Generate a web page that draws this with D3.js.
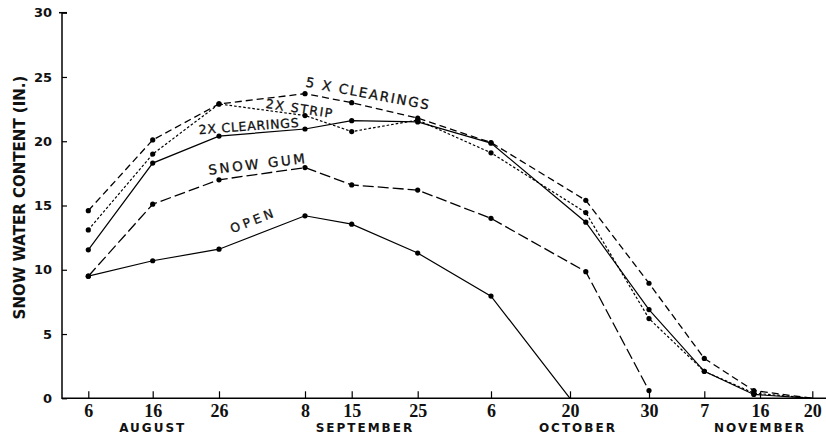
<!DOCTYPE html>
<html><head><meta charset="utf-8">
<script src="https://cdn.jsdelivr.net/npm/d3@7"></script>
<style>html,body{margin:0;padding:0;background:#fff;} svg{display:block;}</style>
</head><body><svg id="chart" width="826" height="439"></svg>
<script>
// ---------- DATA ----------
const YEAR = 1958; // nominal year, only used to build dates
const surveyDates   = ["08-06","08-16","08-26","09-08","09-15","09-25","10-06","10-22","10-30","11-07","11-15","11-20"];
const snowGumDates  = ["08-06","08-16","08-26","09-08","09-15","09-25","10-06","10-22","10-30"];
const openDates     = ["08-06","08-16","08-26","09-08","09-15","09-25","10-06","10-20"];

const fiveXClearings = [14.6, 20.1, 22.9, 23.7, 23.0, 21.8, 19.9, 15.4, 8.95, 3.1, 0.6, 0];
const twoXStrip      = [13.1, 19.0, 22.9, 22.0, 20.75, 21.65, 19.1, 14.45, 6.2, 2.1, 0.4, 0];
const twoXClearings  = [11.55, 18.3, 20.4, 20.95, 21.6, 21.5, 19.85, 13.7, 6.9, 2.1, 0.3, 0];
const snowGum        = [9.5, 15.1, 17.0, 17.95, 16.6, 16.2, 14.0, 9.85, 0.6];
const openSite       = [9.5, 10.7, 11.6, 14.2, 13.55, 11.3, 7.95, 0];

const tickDates  = ["08-06","08-16","08-26","09-08","09-15","09-25","10-06","10-20","10-30","11-07","11-16","11-20"];
const tickLabels = ["6","16","26","8","15","25","6","20","30","7","16","20"];
const monthNames = ["AUGUST","SEPTEMBER","OCTOBER","NOVEMBER"];
const monthLabelDates = ["08-16","09-17","10-21","11-16"];
const yTickValues = [0, 5, 10, 15, 20, 25, 30];
const yTitle = "SNOW WATER CONTENT (IN.)";

const seriesNames  = ["5 X CLEARINGS", "2X STRIP", "2X CLEARINGS", "SNOW GUM", "OPEN"];
// label anchors in data units (date, snow water content)
const labelDates  = ["09-08", "09-02", "08-23", "08-24T12", "08-28"];
const labelValues = [24.25, 22.6, 20.55, 17.4, 12.85];

// ---------- LAYOUT / STYLE ----------
const parse = s => new Date(`${YEAR}-${s}${s.includes("T") ? ":00" : ""}`);
const W = 826, H = 439;
const axisX = 62, axisY = 398.3, topY = 12.7;
// hand-drawn, uneven spacing of the original date axis (pixel positions of the tick dates)
const xTickPx = [88.3, 152.7, 219, 305, 351.7, 417.7, 491, 570, 649, 704.3, 760, 812.3];

const x = d3.scaleTime().domain(tickDates.map(parse)).range(xTickPx);
const y = d3.scaleLinear().domain([0, 30]).range([axisY, topY]);

const svg = d3.select("#chart");

// Y axis
const yAxis = d3.axisLeft(y).tickValues(yTickValues).tickSize(-5).tickPadding(10);
const gy = svg.append("g").attr("transform", `translate(${axisX},0)`).call(yAxis);
gy.select(".domain").remove();
gy.selectAll(".tick line").attr("stroke", "#000").attr("stroke-width", 1.2);
gy.selectAll(".tick text").attr("font-family", "DejaVu Sans").attr("font-weight", "bold")
  .attr("font-size", 13).attr("fill", "#111");
svg.append("line").attr("x1", axisX).attr("x2", axisX).attr("y1", y(30)).attr("y2", axisY + 0.7)
  .attr("stroke", "#000").attr("stroke-width", 1.5);
svg.append("line").attr("x1", axisX - 3).attr("x2", axisX + 5).attr("y1", y(30)).attr("y2", y(30))
  .attr("stroke", "#000").attr("stroke-width", 1.5);

// X axis
const xAxis = d3.axisBottom(x).tickValues(tickDates.map(parse))
  .tickFormat((d, i) => tickLabels[i]).tickSize(-7).tickPadding(6);
const gx = svg.append("g").attr("transform", `translate(0,${axisY})`).call(xAxis);
gx.select(".domain").remove();
gx.selectAll(".tick line").attr("stroke", "#000").attr("stroke-width", 1.2);
gx.selectAll(".tick text").attr("font-family", "Liberation Serif").attr("font-weight", "bold")
  .attr("font-size", 18).attr("fill", "#111");
svg.append("line").attr("x1", axisX).attr("x2", W).attr("y1", axisY).attr("y2", axisY)
  .attr("stroke", "#000").attr("stroke-width", 1.5);

// month labels
svg.append("g").selectAll("text").data(monthNames).join("text")
  .attr("x", (d, i) => x(parse(monthLabelDates[i])))
  .attr("y", axisY + 34)
  .attr("text-anchor", "middle")
  .attr("font-family", "DejaVu Sans").attr("font-weight", "bold").attr("font-size", 12)
  .attr("letter-spacing", 2).attr("fill", "#111")
  .text(d => d);

// y title
svg.append("text")
  .attr("transform", `translate(24.5,197.5) rotate(-90)`)
  .attr("text-anchor", "middle")
  .attr("font-family", "DejaVu Sans").attr("font-weight", "bold").attr("font-size", 15)
  .attr("fill", "#111").text(yTitle);

// series
const seriesValues = [fiveXClearings, twoXStrip, twoXClearings, snowGum, openSite];
const seriesDates  = [surveyDates, surveyDates, surveyDates, snowGumDates, openDates];
const dashes = ["7,4", "2.6,2", null, "11,4", null];
const widths = [1.3, 1.2, 1.2, 1.3, 1.2];

const line = d3.line().x(d => x(d.date)).y(d => y(d.v));
seriesValues.forEach((vals, si) => {
  const pts = vals.map((v, i) => ({ date: parse(seriesDates[si][i]), v }));
  svg.append("path").datum(pts)
    .attr("d", line).attr("fill", "none").attr("stroke", "#000")
    .attr("stroke-width", widths[si])
    .attr("stroke-dasharray", dashes[si]);
  svg.append("g").selectAll("circle").data(pts.filter(p => p.v > 0)).join("circle")
    .attr("cx", d => x(d.date)).attr("cy", d => y(d.v)).attr("r", 2.6).attr("fill", "#000");
});

// series labels
const labelAngles = [10.6, 8.6, -4.2, -6.9, -21];
const labelLengths = [125, 67, 100, 97, 45];
const labelSizes = [13.5, 12.5, 12.5, 13.5, 12.5];
seriesNames.forEach((name, i) => {
  svg.append("text")
    .attr("transform", `translate(${x(parse(labelDates[i]))},${y(labelValues[i])}) rotate(${labelAngles[i]})`)
    .attr("font-family", "DejaVu Sans").attr("font-size", labelSizes[i])
    .attr("textLength", labelLengths[i]).attr("lengthAdjust", "spacing")
    .attr("fill", "#111").attr("stroke", "#111").attr("stroke-width", 0.3)
    .text(name);
});
</script>
</body></html>
